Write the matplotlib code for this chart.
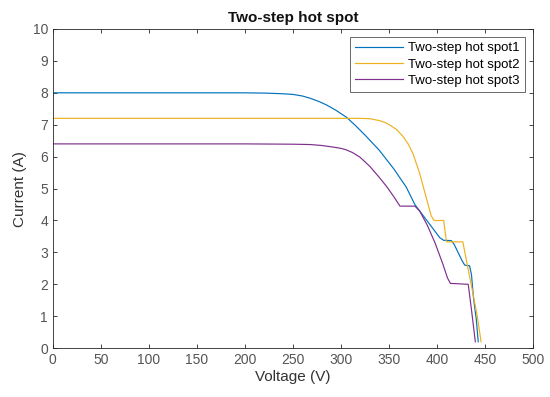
import matplotlib
matplotlib.use("Agg")
import matplotlib.pyplot as plt

plt.rcParams['font.family'] = ['Liberation Sans', 'DejaVu Sans']

# curve 1: two-step hot spot1
v1 = [0, 100, 200, 222, 240, 250, 260, 268, 277, 285, 295, 306, 315, 325, 340, 355,
      368, 377, 390, 398, 403, 407, 415, 418, 422, 426, 429, 434, 436, 438, 441, 443]
i1 = [8.0, 8.0, 8.0, 7.99, 7.97, 7.95, 7.9, 7.83, 7.73, 7.62, 7.45, 7.23, 6.98, 6.68, 6.2, 5.62,
      5.05, 4.5, 3.98, 3.66, 3.46, 3.38, 3.37, 3.25, 3.0, 2.75, 2.6, 2.58, 2.3, 1.6, 0.9, 0.2]

# curve 2: two-step hot spot2
v2 = [0, 100, 200, 300, 320, 330, 340, 346, 351, 358, 365, 370, 375, 382, 389, 394, 397,
      407, 410, 427, 432, 437, 442, 446]
i2 = [7.2, 7.2, 7.2, 7.2, 7.2, 7.19, 7.13, 7.07, 6.99, 6.85, 6.62, 6.4, 6.1, 5.48, 4.7, 4.15, 4.0,
      4.0, 3.33, 3.33, 2.55, 1.8, 1.0, 0.2]

# curve 3: two-step hot spot3
v3 = [0, 100, 200, 250, 268, 280, 292, 300, 305, 312, 320, 330, 340, 348, 355, 361.5, 377, 382,
      390, 398, 406, 411, 414, 432.6, 436, 440]
i3 = [6.4, 6.4, 6.4, 6.39, 6.38, 6.35, 6.3, 6.26, 6.22, 6.13, 5.98, 5.7, 5.35, 5.05, 4.75, 4.45, 4.45, 4.3,
      3.85, 3.3, 2.65, 2.2, 2.03, 2.0, 1.2, 0.2]

labels = ["Two-step hot spot1", "Two-step hot spot2", "Two-step hot spot3"]
colors = ["#0072BD", "#EDB120", "#7E2F8E"]
dark = "#262626"

fig = plt.figure(figsize=(5.5, 3.97), dpi=100)
ax = fig.add_axes([0.096, 0.123, 0.873, 0.804])

for v, i, lab, c in zip([v1, v2, v3], [i1, i2, i3], labels, colors):
    ax.plot(v, i, color=c, lw=0.85, label=lab)

ax.set_xlim(0, 500)
ax.set_ylim(0, 10)
ax.set_xticks(range(0, 501, 50))
ax.set_yticks(range(0, 11))
ax.tick_params(direction="in", top=True, right=True, length=3, width=0.6,
               colors=dark, labelsize=10, labelcolor="#555555")
for s in ax.spines.values():
    s.set_color(dark)
    s.set_linewidth(0.6)

ax.set_xlabel("Voltage (V)", fontsize=11, color="#333333", labelpad=2)
ax.set_ylabel("Current (A)", fontsize=11, color="#333333", labelpad=4)
ax.set_title("Two-step hot spot", fontsize=11, fontweight="bold", color="#111111", pad=5)

leg = ax.legend(loc="upper right", fontsize=9.5, frameon=True, fancybox=False,
                borderpad=0.4, labelspacing=0.3, handlelength=3.6, handletextpad=0.4,
                borderaxespad=0.6)
leg.get_frame().set_edgecolor(dark)
leg.get_frame().set_linewidth(0.6)

fig.savefig("out.png", dpi=100)
